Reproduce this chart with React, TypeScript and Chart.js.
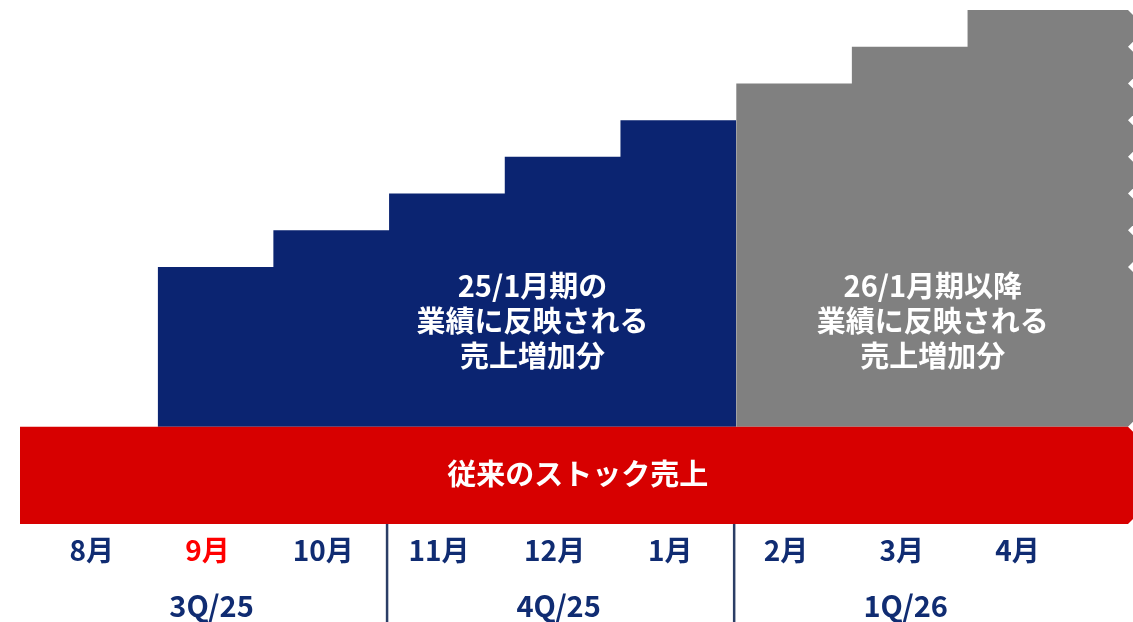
import React, { useEffect, useRef } from "react";
import { Chart, registerables } from "chart.js";

Chart.register(...registerables);

// ---- data ----
const months = ["8月", "9月", "10月", "11月", "12月", "1月", "2月", "3月", "4月"];
const highlightMonth = "9月";
const quarters = ["3Q/25", "4Q/25", "1Q/26"];
const monthsPerQuarter = 3;
const stockSales = 26.5; // 従来のストック売上 (base band)
const currentStartMonth = 1; // 9月
const currentPeriodTotals = [70, 80, 90, 100, 110]; // 9月〜1月
const nextStartMonth = 6; // 2月
const nextPeriodTotals = [120, 130, 140]; // 2月〜4月
const xMin = -0.19;
const xMax = 9.43;
const yMax = 140;

const currentLabel = ["25/1月期の", "業績に反映される", "売上増加分"];
const nextLabel = ["26/1月期以降", "業績に反映される", "売上増加分"];
const stockLabel = ["従来のストック売上"];

// ---- style / placement ----
const FONT = '"Noto Sans CJK JP", "Noto Sans", sans-serif';
const NAVY = "#0B2471";
const RED = "#D70000";
const GRAY = "#808080";
const TEXT_NAVY = "#102C72";
const HIGHLIGHT = "#FF0000";
const annotations = [
  { lines: currentLabel, x: 4.24, y: 55.3 },
  { lines: nextLabel, x: 7.7, y: 55.3 },
  { lines: stockLabel, x: 4.63, y: 13.6 },
];

function stepPoints(start: number, totals: number[], end: number) {
  const pts = totals.map((v, i) => ({ x: start + i, y: v }));
  pts.push({ x: end, y: totals[totals.length - 1] });
  return pts;
}

const labelsPlugin = {
  id: "areaLabels",
  afterDatasetsDraw(chart: any) {
    const { ctx, scales } = chart;
    const xs = scales.x;
    const ys = scales.y;
    ctx.save();
    ctx.fillStyle = "#FFFFFF";
    ctx.textAlign = "center";
    ctx.textBaseline = "middle";
    ctx.font = `bold 29px ${FONT}`;
    const lh = 35;
    annotations.forEach((a) => {
      const cx = xs.getPixelForValue(a.x);
      const cy = ys.getPixelForValue(a.y);
      a.lines.forEach((t, i) => {
        ctx.fillText(t, cx, cy + (i - (a.lines.length - 1) / 2) * lh);
      });
    });
    ctx.restore();
  },
};

const edgePlugin = {
  id: "tornEdge",
  afterDatasetsDraw(chart: any) {
    const { ctx, scales, chartArea } = chart;
    const ys = scales.y;
    const xr = chartArea.right;
    const levels = [...nextPeriodTotals, ...currentPeriodTotals, stockSales, 0];
    ctx.save();
    ctx.fillStyle = "#FFFFFF";
    levels.forEach((lv) => {
      const y = ys.getPixelForValue(lv);
      ctx.beginPath();
      ctx.moveTo(xr + 1, y - 6);
      ctx.lineTo(xr - 5, y);
      ctx.lineTo(xr + 1, y + 6);
      ctx.closePath();
      ctx.fill();
    });
    ctx.restore();
  },
};

const dividerPlugin = {
  id: "quarterDividers",
  afterDraw(chart: any) {
    const { ctx, scales, chartArea } = chart;
    const xs = scales.x;
    ctx.save();
    ctx.strokeStyle = "#2B3E66";
    ctx.lineWidth = 2.5;
    for (let q = 1; q < quarters.length; q++) {
      const px = xs.getPixelForValue(q * monthsPerQuarter) - 2;
      ctx.beginPath();
      ctx.moveTo(px, chartArea.bottom);
      ctx.lineTo(px, chart.height);
      ctx.stroke();
    }
    ctx.restore();
  },
};

export default function App() {
  const ref = useRef<HTMLCanvasElement | null>(null);

  useEffect(() => {
    if (!ref.current) return;
    const chart = new Chart(ref.current, {
      type: "line",
      data: {
        datasets: [
          {
            label: "stock",
            data: [
              { x: xMin, y: stockSales },
              { x: xMax, y: stockSales },
            ],
            backgroundColor: RED,
            borderColor: "rgba(0,0,0,0)",
            borderWidth: 0,
            pointRadius: 0,
            fill: "origin",
          },
          {
            label: "current",
            data: stepPoints(currentStartMonth, currentPeriodTotals, nextStartMonth),
            stepped: true,
            backgroundColor: NAVY,
            borderColor: "rgba(0,0,0,0)",
            borderWidth: 0,
            pointRadius: 0,
            fill: { value: stockSales },
          },
          {
            label: "next",
            data: stepPoints(nextStartMonth, nextPeriodTotals, xMax),
            stepped: true,
            backgroundColor: GRAY,
            borderColor: "rgba(0,0,0,0)",
            borderWidth: 0,
            pointRadius: 0,
            fill: { value: stockSales },
          },
        ],
      } as any,
      options: {
        animation: false,
        responsive: true,
        maintainAspectRatio: false,
        events: [],
        layout: { padding: { left: 20, right: 0, top: 10, bottom: 0 } },
        plugins: { legend: { display: false }, tooltip: { enabled: false } },
        scales: {
          x: {
            type: "linear",
            position: "bottom",
            weight: 0,
            min: xMin,
            max: xMax,
            grid: { display: false, drawTicks: false },
            border: { display: false },
            afterBuildTicks: (scale: any) => {
              scale.ticks = months.map((_, i) => ({ value: i + 0.5 }));
            },
            afterFit: (scale: any) => {
              scale.height = 54;
            },
            ticks: {
              autoSkip: false,
              maxRotation: 0,
              minRotation: 0,
              padding: 10,
              labelOffset: -8,
              font: { family: FONT, size: 28, weight: "bold", lineHeight: 1.2 },
              color: (c: any) => (months[c.index] === highlightMonth ? HIGHLIGHT : TEXT_NAVY),
              callback: (_v: any, i: number) => months[i],
            },
          },
          xq: {
            type: "linear",
            position: "bottom",
            weight: 1,
            min: xMin,
            max: xMax,
            grid: { display: false, drawTicks: false },
            border: { display: false },
            afterBuildTicks: (scale: any) => {
              scale.ticks = quarters.map((_, q) => ({
                value: q * monthsPerQuarter + (monthsPerQuarter - 1) / 2 + 0.5,
              }));
            },
            afterFit: (scale: any) => {
              scale.height = 44;
            },
            ticks: {
              autoSkip: false,
              maxRotation: 0,
              minRotation: 0,
              padding: 11,
              labelOffset: -4,
              font: { family: FONT, size: 29, weight: "bold", lineHeight: 1.2 },
              color: TEXT_NAVY,
              callback: (_v: any, i: number) => quarters[i],
            },
          },
          y: {
            display: false,
            min: 0,
            max: yMax,
          },
        },
      } as any,
      plugins: [labelsPlugin, edgePlugin, dividerPlugin],
    });
    return () => chart.destroy();
  }, []);

  return (
    <div style={{ position: "absolute", left: 0, top: 0, width: 1133, height: 622 }}>
      <canvas ref={ref} />
    </div>
  );
}
